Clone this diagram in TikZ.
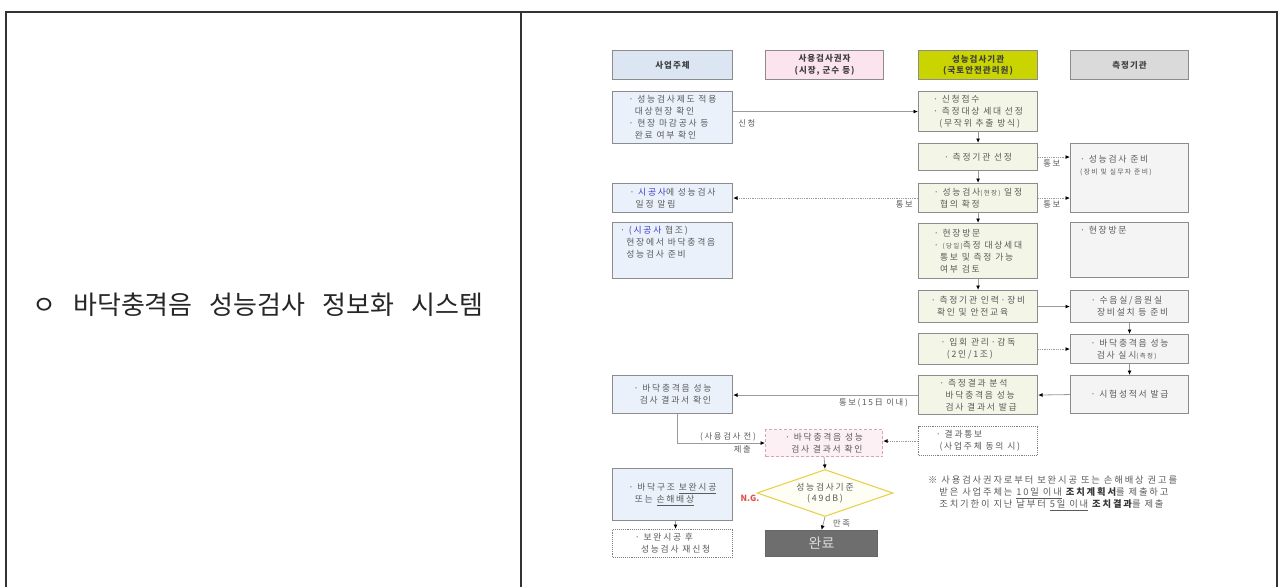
\documentclass[tikz,border=0pt]{standalone}
\usepackage{fontspec}
\setmainfont{Noto Sans CJK KR}
\newfontfamily\kr[LetterSpace=20]{Noto Sans CJK KR}
\newfontfamily\krh[LetterSpace=12]{Noto Sans CJK KR}
\usetikzlibrary{shapes.geometric,arrows.meta}
\definecolor{bordergray}{HTML}{8C8C8C}
\definecolor{txtgray}{HTML}{5A5A5A}
\definecolor{linegray}{HTML}{9A9A9A}
\definecolor{blueA}{HTML}{DCE6F2}
\definecolor{blueB}{HTML}{EAF1FB}
\definecolor{pinkA}{HTML}{FCE4EF}
\definecolor{pinkB}{HTML}{FDF0F5}
\definecolor{pinkline}{HTML}{D8A3BA}
\definecolor{greenA}{HTML}{C9D400}
\definecolor{greenB}{HTML}{F3F6E6}
\definecolor{grayA}{HTML}{DADADA}
\definecolor{grayB}{HTML}{F4F4F4}
\definecolor{kblue}{HTML}{3A3AC8}
\definecolor{ngred}{HTML}{D9534F}
\definecolor{dyellow}{HTML}{E6D24E}
\definecolor{donegray}{HTML}{6E6E6E}
\definecolor{tableline}{HTML}{333333}
\tikzset{
  box/.style={draw=bordergray, line width=1.1pt, inner sep=0pt, align=left,
    font=\kr\fontsize{8.8}{12}\selectfont, text=txtgray},
  colL/.style={box, fill=blueB, minimum width=120pt},
  colM/.style={box, fill=pinkB, draw=pinkline, densely dashed, minimum width=117pt},
  colC/.style={box, fill=greenB, minimum width=119pt},
  colR/.style={box, fill=grayB, minimum width=118pt},
  hdr/.style={draw=bordergray, line width=1.1pt, inner sep=0pt, align=center,
    minimum height=29pt, font=\krh\bfseries\fontsize{8.5}{11.5}\selectfont, text=black!75},
  dotbox/.style={box, fill=white, densely dotted, draw=bordergray!90!black},
  txt/.style={inner sep=0pt, align=left, font=\kr\fontsize{8.8}{12}\selectfont, text=txtgray},
  lbl/.style={inner sep=0pt, font=\kr\fontsize{8.3}{10}\selectfont, text=txtgray},
  conn/.style={draw=linegray, line width=0.8pt, -{Latex[length=4.5pt,width=4pt,color=black]}},
  dconn/.style={conn, densely dotted},
}
\begin{document}
\begin{tikzpicture}[x=1pt,y=-1pt]
\useasboundingbox (0,0) rectangle (1282,587);
% table
\draw[tableline, line width=1.3pt] (6,587) -- (6,12) -- (1277,12) -- (1277,587);
\draw[tableline, line width=1.3pt] (521,12) -- (521,587);
\node[inner sep=0pt, anchor=west, font=\fontsize{26}{30}\selectfont, text=black!85] (title) at (32,305)
  {\makebox[451pt][s]{ㅇ 바닥충격음 성능검사 정보화 시스템}};

% headers
\node[hdr, fill=blueA, minimum width=120pt, anchor=north west] (H1) at (612,50) {사업주체};
\node[hdr, fill=pinkA, minimum width=118pt, anchor=north west] (H2) at (765,50) {사용검사권자\\(시장, 군수 등)};
\node[hdr, fill=greenA, minimum width=119pt, anchor=north west] (H3) at (918,50) {성능검사기관\\(국토안전관리원)};
\node[hdr, fill=grayA, minimum width=118pt, anchor=north west] (H4) at (1070,50) {측정기관};

% left column
\node[colL, minimum height=52pt, anchor=north west] (L1) at (612,91)
  {· 성능검사제도 적용\\\hspace*{0.7em}대상현장 확인\\· 현장 마감공사 등\\\hspace*{0.7em}완료 여부 확인};
\node[colL, minimum height=29pt, anchor=north west] (L2) at (612,183)
  {· {\color{kblue}시공사}에 성능검사\\\hspace*{0.7em}일정 알림};
\node[colL, minimum height=56pt, anchor=north west] (L3) at (612,222) {};
\node[txt, anchor=north west] (L3t) at ([xshift=8pt,yshift=-4pt]L3.north west)
  {· {\color{kblue}(시공사} 협조)\\\hspace*{0.7em}현장에서 바닥충격음\\\hspace*{0.7em}성능검사 준비};
\node[colL, minimum height=38pt, anchor=north west] (L4) at (612,375)
  {· 바닥충격음 성능\\\hspace*{0.7em}검사 결과서 확인};
\node[colL, minimum height=52pt, anchor=north west] (L5) at (612,468)
  {· 바닥구조 \underline{보완시공}\\\hspace*{0.7em}또는 \underline{손해배상}};
\node[dotbox, minimum width=120pt, minimum height=28pt, anchor=north west] (L6) at (612,529)
  {· 보완시공 후\\\hspace*{0.7em}성능검사 재신청};

% middle column
\node[colM, minimum height=27pt, anchor=north west] (Pk) at (765,429)
  {· 바닥충격음 성능\\\hspace*{0.7em}검사 결과서 확인};
\node[diamond, draw=dyellow, line width=1.1pt, fill=yellow!4, inner sep=0pt, aspect=2.8,
  minimum width=136pt, minimum height=47pt, align=center,
  font=\kr\fontsize{8.8}{11}\selectfont, text=txtgray] (D) at (825,493) {성능검사기준\\(49dB)};
\node[draw=black!60, fill=donegray, line width=1.1pt, minimum width=112pt, minimum height=26pt,
  inner sep=0pt, anchor=north west, font=\fontsize{14}{16}\selectfont, text=black!15] (Done) at (765,530) {완료};
\node[inner sep=0pt, font=\fontsize{8.5}{10}\selectfont\bfseries, text=ngred] (NG) at (750,498) {N.G.};

% third column
\node[colC, minimum height=40pt, anchor=north west] (C1) at (918,91)
  {· 신청접수\\· 측정대상 세대 선정\\\hspace*{0.7em}(무작위 추출 방식)};
\node[colC, minimum height=27pt, anchor=north west] (C2) at (918,143) {· 측정기관 선정};
\node[colC, minimum height=29pt, anchor=north west] (C3) at (918,183)
  {· 성능검사{\fontsize{6.5}{8}\selectfont(현장)} 일정\\\hspace*{0.7em}협의 확정};
\node[colC, minimum height=55pt, anchor=north west] (C4) at (918,223)
  {· 현장방문\\· {\fontsize{6.5}{8}\selectfont(당일)}측정 대상세대\\\hspace*{0.7em}통보 및 측정 가능\\\hspace*{0.7em}여부 검토};
\node[colC, minimum height=32pt, anchor=north west] (C5) at (918,290)
  {· 측정기관 인력·장비\\\hspace*{0.7em}확인 및 안전교육};
\node[colC, minimum height=31pt, anchor=north west] (C6) at (918,333)
  {· 입회 관리·감독\\\hspace*{0.7em}(2인/1조)};
\node[colC, minimum height=39pt, anchor=north west] (C7) at (918,375)
  {· 측정결과 분석\\\hspace*{0.7em}바닥충격음 성능\\\hspace*{0.7em}검사 결과서 발급};
\node[dotbox, minimum width=119pt, minimum height=29pt, anchor=north west] (C8) at (918,426)
  {· 결과통보\\\hspace*{0.4em}(사업주체 동의 시)};

% right column
\node[colR, minimum height=69pt, anchor=north west] (R1) at (1070,143) {};
\node[txt, anchor=north west] (R1t) at ([xshift=10pt,yshift=-12pt]R1.north west)
  {· 성능검사 준비\\{\fontsize{6.8}{9}\selectfont (장비 및 실무자 준비)}};
\node[colR, minimum height=55pt, anchor=north west] (R2) at (1070,222) {};
\node[txt, anchor=north west] (R2t) at ([xshift=10pt,yshift=-4pt]R2.north west) {· 현장방문};
\node[colR, minimum height=32pt, anchor=north west] (R3) at (1070,290)
  {· 수음실/음원실\\\hspace*{0.7em}장비설치 등 준비};
\node[colR, minimum height=29pt, anchor=north west] (R4) at (1070,334)
  {· 바닥충격음 성능\\\hspace*{0.7em}검사 실시{\fontsize{6.5}{8}\selectfont(측정)}};
\node[colR, minimum height=38pt, anchor=north west] (R5) at (1070,375) {· 시험성적서 발급};

% connectors
\draw[conn] (L1.east |- C1.west) -- (C1.west);
\node[lbl, anchor=north west] (sc) at ([xshift=5pt,yshift=-8pt]L1.east |- C1.west) {신청};
\draw[conn] (C1.south) -- (C2.north);
\draw[conn] (C2.south) -- (C3.north);
\draw[conn] (C3.south) -- (C4.north);
\draw[conn] (C4.south) -- (C5.north);
\draw[dconn] (C2.east) -- (C2.east -| R1.west);
\node[lbl, anchor=north west] (tb1) at ([xshift=5pt,yshift=-3pt]C2.east) {통보};
\draw[dconn] (C3.east) -- (C3.east -| R1.west);
\node[lbl, anchor=north west] (tb2) at ([xshift=5pt,yshift=-3pt]C3.east) {통보};
\draw[dconn] (C3.west) -- (L2.east);
\node[lbl, anchor=north east] (tb3) at ([xshift=-5pt,yshift=-3pt]C3.west) {통보};
\draw[conn] (C5.east) -- (R3.west);
\draw[dconn] (C6.east) -- (C6.east -| R4.west);
\draw[conn] (R3.south) -- (R4.north);
\draw[conn] (R4.south) -- (R5.north);
\draw[conn] (R5.west) -- (C7.east);
\draw[conn] (C7.west) -- (C7.west -| L4.east);
\node[lbl, anchor=north east] (tb4) at ([xshift=-10pt,yshift=-3pt]C7.west) {통보(15日 이내)};
\draw[conn] ([xshift=5pt]L4.south) |- (Pk.west);
\node[lbl, anchor=south east] (bf) at ([xshift=-9pt,yshift=2pt]Pk.west) {(사용검사 전)};
\node[lbl, anchor=north east] (jc) at ([xshift=-14pt,yshift=-2pt]Pk.west) {제출};
\draw[dconn] (C8.west) -- (C8.west -| Pk.east);
\draw[conn] (Pk.south) -- (D.north);
\draw[conn] (D.south) -- (Done.north);
\node[lbl, anchor=west] (ms) at ([xshift=8pt,yshift=-6pt]D.south) {만족};
\draw[conn] ([xshift=3pt]L5.south) -- ([xshift=3pt]L6.north);

% note
\node[inner sep=0pt, anchor=north west, align=left, font=\kr\fontsize{9.3}{12}\selectfont, text=txtgray] (note) at (928,476)
  {※\ 사용검사권자로부터 보완시공 또는 손해배상 권고를\\
   \hspace*{1.2em}받은 사업주체는 \underline{10일 이내} {\bfseries\color{black!80}조치계획서}를 제출하고\\
   \hspace*{1.2em}조치기한이 지난 날부터 \underline{5일 이내} {\bfseries\color{black!80}조치결과}를 제출};
\end{tikzpicture}
\end{document}
